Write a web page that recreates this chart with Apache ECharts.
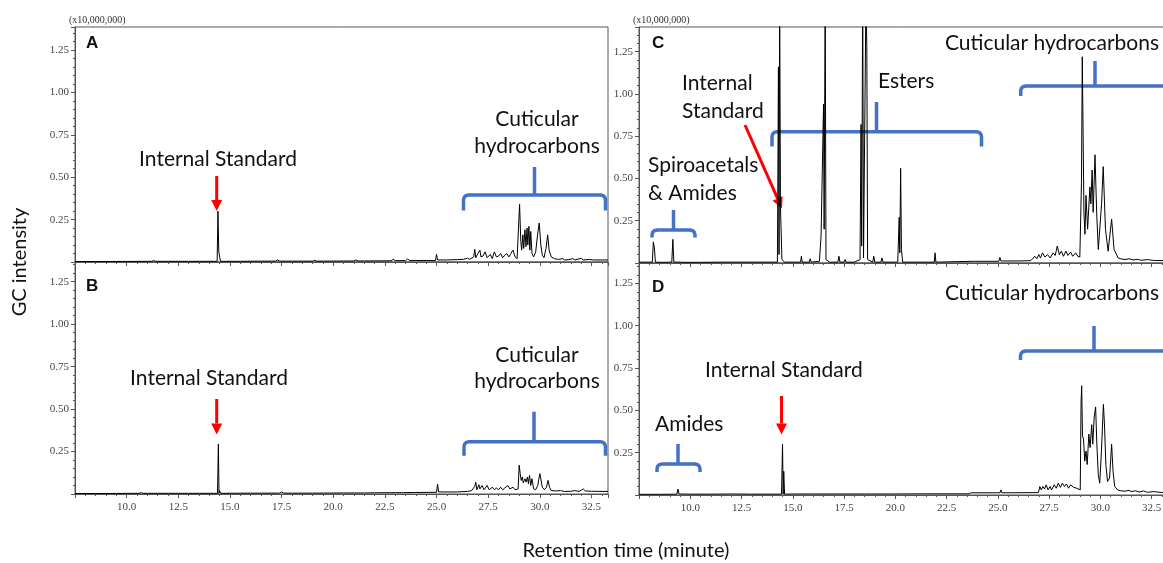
<!DOCTYPE html>
<html>
<head>
<meta charset="utf-8">
<script src="https://cdn.jsdelivr.net/npm/echarts@6.0.0/dist/echarts.min.js"></script>
<style>
html, body { margin: 0; padding: 0; background: #fff; }
#chart { width: 1163px; height: 563px; }
</style>
</head>
<body>
<div id="chart"></div>
<script>
// retention time (minute), GC intensity (x10,000,000)
const traceA = [
  [7.5,0.003],[9.0,0.003],[11.2,0.004],[11.3,0.008],[11.4,0.004],[13.0,0.004],[14.38,0.004],[14.42,0.30],[14.46,0.06],
  [14.5,0.06],[14.54,0.004],[15.5,0.004],[16.5,0.005],[16.55,0.012],[16.6,0.005],[17.2,0.005],[17.3,0.012],[17.4,0.005],
  [19.0,0.005],[19.1,0.01],[19.2,0.005],[21.0,0.006],[21.1,0.012],[21.2,0.006],[22.8,0.007],[22.9,0.016],[23.0,0.008],
  [23.5,0.008],[23.6,0.018],[23.7,0.009],[24.0,0.009],[24.95,0.009],[25.0,0.045],[25.05,0.012],[25.5,0.012],[26.0,0.014],
  [26.3,0.016],[26.5,0.022],[26.6,0.016],[26.8,0.03],[26.85,0.075],[26.9,0.025],[27.0,0.05],[27.1,0.07],[27.15,0.03],
  [27.25,0.035],[27.35,0.06],[27.45,0.025],[27.6,0.045],[27.7,0.02],[27.8,0.06],[27.9,0.03],[28.0,0.035],[28.1,0.05],
  [28.2,0.025],[28.3,0.04],[28.4,0.05],[28.5,0.03],[28.6,0.05],[28.7,0.07],[28.8,0.03],[28.9,0.02],[28.98,0.025],
  [29.02,0.34],[29.08,0.12],[29.12,0.07],[29.18,0.16],[29.22,0.08],[29.28,0.19],[29.33,0.09],[29.38,0.2],[29.42,0.1],
  [29.47,0.21],[29.52,0.07],[29.56,0.18],[29.62,0.05],[29.7,0.03],[29.8,0.06],[29.9,0.17],[29.97,0.23],[30.05,0.1],
  [30.12,0.04],[30.2,0.025],[30.3,0.08],[30.38,0.16],[30.45,0.07],[30.55,0.03],[30.7,0.02],[30.9,0.015],[31.1,0.02],
  [31.2,0.012],[31.4,0.014],[31.6,0.02],[31.7,0.012],[32.0,0.022],[32.1,0.012],[32.4,0.015],[32.6,0.012],[33.3,0.012]
];
const traceB = [
  [7.5,0.003],[9.0,0.003],[10.6,0.004],[10.7,0.007],[10.8,0.004],[12.0,0.004],[14.4,0.004],[14.44,0.295],[14.47,0.004],
  [14.5,0.02],[14.54,0.004],[16.0,0.005],[17.3,0.005],[17.35,0.015],[17.4,0.005],[17.5,0.012],[17.6,0.005],[19.0,0.005],
  [20.5,0.006],[21.5,0.006],[22.0,0.007],[22.05,0.014],[22.1,0.007],[23.3,0.008],[23.35,0.016],[23.4,0.008],[23.9,0.009],
  [23.95,0.02],[24.0,0.009],[25.0,0.01],[25.05,0.057],[25.1,0.012],[26.0,0.012],[26.5,0.015],[26.7,0.02],[26.85,0.045],
  [26.9,0.07],[26.95,0.025],[27.05,0.055],[27.1,0.03],[27.2,0.05],[27.3,0.025],[27.45,0.05],[27.55,0.025],[27.7,0.04],
  [27.8,0.025],[27.9,0.035],[28.0,0.025],[28.1,0.04],[28.2,0.025],[28.3,0.035],[28.45,0.05],[28.55,0.03],[28.7,0.04],
  [28.8,0.025],[28.95,0.03],[29.0,0.17],[29.05,0.12],[29.1,0.08],[29.15,0.1],[29.2,0.065],[29.28,0.09],[29.34,0.07],
  [29.4,0.1],[29.45,0.06],[29.5,0.11],[29.56,0.05],[29.62,0.09],[29.7,0.03],[29.8,0.025],[29.9,0.05],[30.0,0.12],
  [30.05,0.09],[30.12,0.04],[30.22,0.025],[30.32,0.04],[30.4,0.08],[30.47,0.04],[30.55,0.02],[30.8,0.018],[31.0,0.02],
  [31.2,0.015],[31.5,0.016],[31.7,0.02],[31.9,0.015],[32.0,0.022],[32.1,0.03],[32.2,0.018],[32.5,0.016],[33.3,0.015]
];
const traceC = [
  [7.5,0.005],[8.15,0.005],[8.2,0.125],[8.25,0.09],[8.3,0.005],[8.6,0.004],[9.1,0.005],[9.15,0.14],[9.2,0.005],
  [9.5,0.005],[9.55,0.012],[9.6,0.004],[10.5,0.004],[11.5,0.005],[12.5,0.005],[13.5,0.005],[14.25,0.005],[14.3,1.16],
  [14.33,0.05],[14.36,1.6],[14.4,0.33],[14.44,0.33],[14.47,0.02],[14.6,0.005],[15.38,0.005],[15.42,0.04],[15.46,0.005],
  [15.8,0.005],[15.85,0.025],[15.9,0.005],[16.3,0.01],[16.38,0.16],[16.44,0.15],[16.5,0.94],[16.53,0.2],[16.58,1.6],
  [16.62,0.02],[16.8,0.005],[17.2,0.005],[17.25,0.04],[17.3,0.005],[17.5,0.005],[17.55,0.02],[17.6,0.005],[18.0,0.005],
  [18.28,0.02],[18.33,0.82],[18.36,0.1],[18.41,1.6],[18.45,0.03],[18.52,0.03],[18.57,1.6],[18.61,1.28],[18.65,0.02],
  [18.9,0.005],[18.95,0.04],[19.0,0.005],[19.3,0.005],[19.35,0.03],[19.4,0.005],[20.12,0.005],[20.19,0.27],[20.22,0.06],
  [20.26,0.56],[20.3,0.08],[20.36,0.005],[21.9,0.005],[21.94,0.06],[21.98,0.005],[23.0,0.008],[23.8,0.01],[23.85,0.018],
  [23.9,0.01],[25.05,0.01],[25.1,0.033],[25.15,0.012],[26.0,0.012],[26.6,0.014],[26.7,0.025],[26.8,0.04],[26.9,0.025],
  [27.0,0.05],[27.08,0.03],[27.18,0.06],[27.3,0.035],[27.42,0.05],[27.55,0.03],[27.7,0.06],[27.8,0.045],[27.9,0.1],
  [28.0,0.05],[28.1,0.07],[28.2,0.04],[28.32,0.07],[28.42,0.045],[28.55,0.065],[28.65,0.04],[28.8,0.06],[28.9,0.04],
  [29.0,0.035],[29.08,0.48],[29.12,1.22],[29.2,0.3],[29.25,0.17],[29.3,0.4],[29.38,0.2],[29.49,0.45],[29.54,0.35],
  [29.6,0.55],[29.65,0.3],[29.74,0.64],[29.82,0.3],[29.9,0.08],[30.06,0.35],[30.14,0.57],[30.25,0.2],[30.38,0.07],
  [30.55,0.26],[30.67,0.08],[30.87,0.03],[31.0,0.025],[31.2,0.02],[31.4,0.025],[31.6,0.018],[31.8,0.022],[32.0,0.016],
  [32.3,0.02],[32.6,0.015],[33.3,0.014]
];
const traceD = [
  [7.5,0.004],[8.5,0.004],[9.35,0.005],[9.4,0.035],[9.45,0.006],[10.0,0.005],[11.0,0.005],[12.0,0.006],[13.0,0.005],
  [14.45,0.005],[14.5,0.30],[14.53,0.005],[14.56,0.14],[14.6,0.005],[15.2,0.006],[16.0,0.006],[17.0,0.006],[18.5,0.006],
  [20.0,0.006],[21.5,0.007],[23.6,0.007],[23.65,0.018],[23.7,0.013],[25.1,0.013],[25.15,0.03],[25.2,0.013],[26.98,0.014],
  [27.05,0.05],[27.12,0.03],[27.2,0.05],[27.28,0.035],[27.36,0.06],[27.45,0.03],[27.55,0.05],[27.62,0.03],[27.75,0.06],
  [27.85,0.04],[27.95,0.07],[28.05,0.045],[28.15,0.07],[28.25,0.05],[28.35,0.065],[28.45,0.04],[28.55,0.06],[28.7,0.045],
  [28.85,0.04],[29.02,0.03],[29.06,0.55],[29.09,0.645],[29.13,0.35],[29.18,0.33],[29.24,0.2],[29.3,0.26],[29.36,0.18],
  [29.44,0.36],[29.5,0.28],[29.58,0.415],[29.63,0.3],[29.7,0.46],[29.77,0.52],[29.83,0.3],[29.9,0.12],[29.97,0.07],
  [30.05,0.25],[30.15,0.535],[30.2,0.42],[30.27,0.18],[30.35,0.08],[30.45,0.1],[30.55,0.30],[30.62,0.14],[30.7,0.05],
  [30.85,0.03],[31.0,0.025],[31.2,0.022],[31.4,0.028],[31.5,0.02],[31.7,0.025],[31.9,0.018],[32.1,0.024],[32.3,0.016],
  [32.6,0.02],[33.0,0.015],[33.3,0.015]
];

const panelLetters = ['A', 'B', 'C', 'D'];
const xTicks = [10.0, 12.5, 15.0, 17.5, 20.0, 22.5, 25.0, 27.5, 30.0, 32.5];
const yTicks = [0.25, 0.50, 0.75, 1.00, 1.25];

const traces = [traceA, traceB, traceC, traceD];
const layout = [
  { left: 75, top: 27, width: 533, height: 235, yMax: 1.386, labels: false },
  { left: 75, top: 262, width: 533, height: 232, yMax: 1.366, labels: true },
  { left: 639, top: 27, width: 529, height: 236, yMax: 1.396, labels: false },
  { left: 639, top: 263, width: 529, height: 232, yMax: 1.37, labels: true }
];

const serif = '"Liberation Serif", "DejaVu Serif", serif';
const sans = 'Lato, "Open Sans", sans-serif';
const axisCol = '#555';

function near(list, v) {
  return list.some(t => Math.abs(t - v) < 1e-6);
}

const grid = [], xAxis = [], yAxis = [], series = [];
layout.forEach((p, i) => {
  grid.push({ left: p.left, top: p.top, width: p.width, height: p.height, outerBoundsMode: 'none',
    show: true, borderColor: axisCol, borderWidth: 1 });
  xAxis.push({
    type: 'value', gridIndex: i, min: 7.5, max: 33.3, interval: 2.5,
    axisLine: { lineStyle: { color: axisCol } },
    axisTick: { length: 4, lineStyle: { color: axisCol } },
    minorTick: { show: true, splitNumber: 5, length: 2, lineStyle: { color: axisCol } },
    splitLine: { show: false },
    axisLabel: { show: p.labels, margin: 8, color: '#444', fontFamily: serif, fontSize: 11,
      formatter: v => near(xTicks, v) ? v.toFixed(1) : '' }
  });
  yAxis.push({
    type: 'value', gridIndex: i, min: 0, max: p.yMax, interval: 0.25,
    axisLine: { show: true, lineStyle: { color: axisCol } },
    axisTick: { show: true, length: 4, lineStyle: { color: axisCol } },
    minorTick: { show: true, splitNumber: 5, length: 2, lineStyle: { color: axisCol } },
    splitLine: { show: false },
    axisLabel: { margin: 6, color: '#444', fontFamily: serif, fontSize: 11,
      formatter: v => near(yTicks, v) ? v.toFixed(2) : '' }
  });
  series.push({
    type: 'line', xAxisIndex: i, yAxisIndex: i, data: traces[i],
    showSymbol: false, symbol: 'none', clip: true, silent: true,
    lineStyle: { color: '#000', width: 1 }
  });
});

// annotations
const blue = '#4472C4';
const red = '#FF0000';
const graphic = [];

function text(str, x, y, opts) {
  opts = opts || {};
  graphic.push({ type: 'text', x: x, y: y, rotation: opts.rotation || 0, silent: true,
    style: { text: str, fill: opts.fill || '#111', align: opts.align || 'left', verticalAlign: 'middle',
      font: (opts.weight || 'normal') + ' ' + (opts.size || 21) + 'px ' + (opts.family || sans) } });
}
function bracket(l, r, h, b, c, t) {
  const k = 5;
  graphic.push({ type: 'polyline', silent: true,
    shape: { points: [[l, b], [l, h + k], [l + 0.7, h + 2.2], [l + 2.2, h + 0.7], [l + k, h],
      [r - k, h], [r - 2.2, h + 0.7], [r - 0.7, h + 2.2], [r, h + k], [r, b]] },
    style: { stroke: blue, lineWidth: 3.5, fill: null, lineJoin: 'round' } });
  graphic.push({ type: 'line', silent: true, shape: { x1: c, y1: h, x2: c, y2: t },
    style: { stroke: blue, lineWidth: 3.5 } });
}
function arrow(x1, y1, x2, y2) {
  const dx = x2 - x1, dy = y2 - y1, len = Math.sqrt(dx * dx + dy * dy);
  const ux = dx / len, uy = dy / len, hl = 11, hw = 5.5;
  const bx = x2 - ux * hl, by = y2 - uy * hl;
  graphic.push({ type: 'line', silent: true, shape: { x1: x1, y1: y1, x2: bx, y2: by },
    style: { stroke: red, lineWidth: 3 } });
  graphic.push({ type: 'polygon', silent: true,
    shape: { points: [[x2, y2], [bx - uy * hw, by + ux * hw], [bx + uy * hw, by - ux * hw]] },
    style: { fill: red } });
}

text('(x10,000,000)', 69, 20, { family: serif, size: 10, fill: '#333' });
text('(x10,000,000)', 633, 20, { family: serif, size: 10, fill: '#333' });

const boldFont = '"Liberation Sans", Arial, sans-serif';
text(panelLetters[0], 86, 43, { weight: 'bold', size: 17, family: boldFont });
text(panelLetters[1], 86, 286, { weight: 'bold', size: 17, family: boldFont });
text(panelLetters[2], 652, 43, { weight: 'bold', size: 17, family: boldFont });
text(panelLetters[3], 652, 287, { weight: 'bold', size: 17, family: boldFont });

// A
text('Internal Standard', 218, 159, { align: 'center' });
arrow(216.7, 176, 216.7, 211);
text('Cuticular', 537, 119, { align: 'center' });
text('hydrocarbons', 537, 146, { align: 'center' });
bracket(463.5, 605.5, 195, 210.5, 534.5, 167);
// B
text('Internal Standard', 209, 378, { align: 'center' });
arrow(216.7, 399, 216.7, 434.5);
text('Cuticular', 537, 355, { align: 'center' });
text('hydrocarbons', 537, 381, { align: 'center' });
bracket(464, 605.5, 441.7, 455.7, 534, 411.7);
// C
text('Internal', 682, 83);
text('Standard', 682, 111);
arrow(745, 125, 782, 208.5);
text('Spiroacetals', 648, 165);
text('& Amides', 648, 193);
bracket(652, 695, 230, 237.5, 673.5, 210);
text('Esters', 878, 81);
bracket(772, 981.5, 131.7, 146.5, 876.5, 102);
text('Cuticular hydrocarbons', 1159, 43, { align: 'right' });
bracket(1020.7, 1172, 86, 96, 1095, 61);
// D
text('Internal Standard', 705, 370);
arrow(781.5, 396, 781.5, 434.5);
text('Amides', 655, 424);
bracket(657, 700, 464, 472, 678, 444);
text('Cuticular hydrocarbons', 1159, 293, { align: 'right' });
bracket(1020.5, 1172, 351, 360, 1094, 326);

// axis titles
text('GC intensity', 20, 262, { align: 'center', rotation: Math.PI / 2, size: 20 });
text('Retention time (minute)', 626, 551, { align: 'center', size: 20 });

const chart = echarts.init(document.getElementById('chart'));
chart.setOption({
  animation: false,
  backgroundColor: '#fff',
  grid: grid,
  xAxis: xAxis,
  yAxis: yAxis,
  series: series,
  graphic: graphic
});
</script>
</body>
</html>
